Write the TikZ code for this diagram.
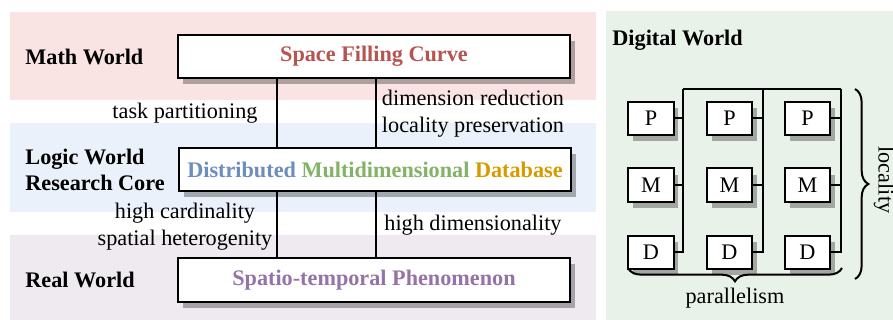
\documentclass[tikz,border=0pt]{standalone}
\usepackage{fontspec}
\setmainfont{Liberation Serif}
\usetikzlibrary{shadows,decorations.pathreplacing}
\definecolor{bandred}{HTML}{FAE3E3}
\definecolor{bandblue}{HTML}{EAF1FB}
\definecolor{bandpurple}{HTML}{EEEAF0}
\definecolor{bandgreen}{HTML}{E9F2E8}
\definecolor{txtred}{HTML}{B85450}
\definecolor{txtblue}{HTML}{6C8EBF}
\definecolor{txtgreen}{HTML}{82B366}
\definecolor{txtorange}{HTML}{D79B00}
\definecolor{txtpurple}{HTML}{9673A6}
\tikzset{
  shadowed/.style={drop shadow={shadow xshift=2.2pt, shadow yshift=-2.8pt, fill=black, opacity=0.3}},
  layerbox/.style={draw, line width=0.9pt, fill=white, shadowed, inner sep=0pt,
    minimum width=176.4pt, minimum height=19.6pt, font=\bfseries},
  unitbox/.style={draw, line width=0.9pt, fill=white, shadowed, inner sep=0pt,
    minimum width=20.3pt, minimum height=14.9pt},
  world/.style={anchor=west, align=left, inner sep=0pt, font=\bfseries},
  note/.style={align=center},
  link/.style={line width=0.9pt},
  curly/.style={decorate, decoration={brace, amplitude=6pt}, line width=0.9pt},
}
\begin{document}
\begin{tikzpicture}[x=0.45pt, y=-0.45pt]
  \useasboundingbox (0,0) rectangle (893,320);
  % world bands
  \fill[bandred]    (10,12)  rectangle (596,100);
  \fill[bandblue]   (10,123) rectangle (596,212);
  \fill[bandpurple] (10,235) rectangle (596,320);
  \fill[bandgreen]  (606,11) rectangle (893,320);
  \node[world] (math)  at (25,57)  {Math World};
  \node[world] (logic) at (25,170) {Logic World\\Research Core};
  \node[world] (real)  at (25,280) {Real World};
  \node[world] (digit) at (612,40) {Digital World};
  % layer boxes
  \node[layerbox] (sfc) at (374,56.5) {\textcolor{txtred}{Space Filling Curve}};
  \node[layerbox] (dmd) at (375,169.5) {\textcolor{txtblue}{Distributed}
    \textcolor{txtgreen}{Multidimensional} \textcolor{txtorange}{Database}};
  \node[layerbox] (stp) at (374,280) {\textcolor{txtpurple}{Spatio-temporal Phenomenon}};
  \coordinate (lx) at (277,0);
  \coordinate (rx) at (376,0);
  \draw[link] (lx |- sfc.south) -- (lx |- dmd.north);
  \draw[link] (rx |- sfc.south) -- (rx |- dmd.north);
  \draw[link] (lx |- dmd.south) -- (lx |- stp.north);
  \draw[link] (rx |- dmd.south) -- (rx |- stp.north);
  \node[note] (tp) at (185,113) {task partitioning};
  \node[note] (dr) at (473,113.5) {dimension reduction\\locality preservation};
  \node[note] (hc) at (185,226.5) {high cardinality\\spatial heterogenity};
  \node[note] (hd) at (473,225) {high dimensionality};
  % digital world: P/M/D units
  \foreach \c/\x in {1/651,2/729.5,3/807.5} {
    \node[unitbox] (p\c) at (\x,118.5) {P};
    \node[unitbox] (m\c) at (\x,185) {M};
    \node[unitbox] (d\c) at (\x,252.5) {D};
  }
  \coordinate (bus1) at (683,89);
  \coordinate (bus2) at (763,89);
  \coordinate (bus3) at (841,89);
  \draw[link] (bus1) -- (bus3);
  \foreach \c in {1,2,3} {
    \draw[link] (bus\c) |- (d\c.east);
    \draw[link] (p\c.east) -- (p\c.east -| bus\c);
    \draw[link] (m\c.east) -- (m\c.east -| bus\c);
  }
  % braces
  \coordinate (loctop) at (855,89);
  \coordinate (locbot) at (855,279);
  \draw[curly] (loctop) -- (locbot);
  \node[rotate=-90] (loc) at (884,180) {locality};
  \coordinate (parr) at (842,268);
  \coordinate (parl) at (628,268);
  \draw[curly] (parr) -- (parl);
  \node (par) at (735,298) {parallelism};
\end{tikzpicture}
\end{document}
